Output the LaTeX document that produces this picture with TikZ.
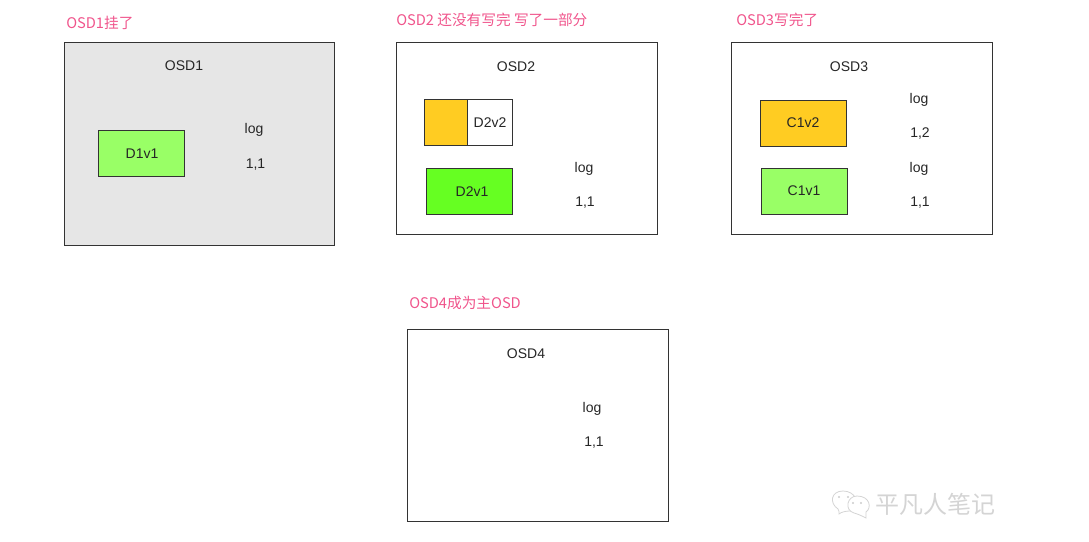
\documentclass[tikz,border=0pt]{standalone}
\usepackage{fontspec}
\setmainfont{Liberation Sans}
\newfontfamily\cjk{Noto Sans CJK SC}
\usetikzlibrary{positioning}
\definecolor{titlepink}{HTML}{F0558C}
\definecolor{downgray}{HTML}{E6E6E6}
\definecolor{lightgreen}{HTML}{99FF66}
\definecolor{puregreen}{HTML}{66FF22}
\definecolor{amber}{HTML}{FFCC22}
\definecolor{edgegray}{HTML}{333333}
\tikzset{
  txt/.style = {inner sep=0pt, font=\fontsize{10.5}{12}\selectfont, text=black!85},
  title/.style = {inner sep=0pt, anchor=west, text=titlepink,
    font=\cjk\fontsize{11}{13}\selectfont},
  osd/.style = {draw=edgegray, line width=0.65pt, inner sep=0pt,
    minimum width=195.75pt, minimum height=144pt},
  obj/.style = {txt, draw=edgegray, line width=0.65pt,
    minimum width=64.5pt, minimum height=34.5pt},
  bubble/.style = {draw=black!17, line width=0.6pt},
  bubbledot/.style = {fill=black!20, draw=none, circle, minimum size=1.8pt, inner sep=0pt}
}

\begin{document}
\begin{tikzpicture}[x=0.75pt, y=-0.75pt]
\useasboundingbox (0,0) rectangle (1089,542);

% OSD1
\node (osd1title) [title] at (66,23) {OSD1挂了};
\node (osd1) [osd, minimum width=202.5pt, minimum height=152.25pt, fill=downgray] at (199,143.5) {};
\node (osd1name) [txt] at (184,66) {OSD1};
\node (d1v1) [obj, fill=lightgreen] at (141,153) {};
\node [txt] at (142,154) {D1v1};
\node (osd1log) [txt] at (254,129.5) {log};
\node (osd1ver) [txt] at (255.5,164.5) {1,1};

% OSD2
\node (osd2title) [title] at (396,20) {OSD2 还没有写完 写了一部分};
\node (osd2) [osd] at (526.5,138) {};
\node (osd2name) [txt] at (516,67) {OSD2};
\node (d2v2part) [obj, fill=amber, minimum width=32.25pt] at (445.5,122.5) {};
\node (d2v2) [obj, fill=white, minimum width=33.25pt, right=0pt of d2v2part] {D2v2};
\node (d2v1) [obj, fill=puregreen] at (469,191) {};
\node [txt] at (472,192) {D2v1};
\node (osd2log) [txt] at (584,168.5) {log};
\node (osd2ver) [txt] at (585,202.5) {1,1};

% OSD3
\node (osd3title) [title] at (736,20) {OSD3写完了};
\node (osd3) [osd] at (861.5,138) {};
\node (osd3name) [txt] at (849,67) {OSD3};
\node (c1v2) [obj, fill=amber] at (803,123) {C1v2};
\node (c1v1) [obj, fill=lightgreen] at (804,191) {C1v1};
\node (osd3log2) [txt] at (919,99.5) {log};
\node (osd3ver2) [txt] at (920,133.5) {1,2};
\node (osd3log1) [txt] at (919,168.5) {log};
\node (osd3ver1) [txt] at (920,202.5) {1,1};

% OSD4
\node (osd4title) [title] at (409,303) {OSD4成为主OSD};
\node (osd4) [osd] at (537.5,425) {};
\node (osd4name) [txt] at (526,354) {OSD4};
\node (osd4log) [txt] at (592,408.5) {log};
\node (osd4ver) [txt] at (594,442.5) {1,1};

% two chat bubbles and the account name, bottom right
\draw [bubble] (850,511) .. controls (846,511) and (841,512) .. (839,514) .. controls (839,512) and (839,510) .. (838,509)
  .. controls (829,503) and (831,491) .. (843,491) .. controls (849,491) and (853,494) .. (855,497);
\draw [bubble, fill=white] (857,496) .. controls (847,496) and (844,510) .. (854,513) .. controls (858,514) and (862,516) .. (866,518)
  .. controls (866,516) and (866,514) .. (866,512) .. controls (872,508) and (870,496) .. (857,496) -- cycle;
\node (dota) [bubbledot] at (839,497) {};
\node (dotb) [bubbledot] at (848,497) {};
\node (dotc) [bubbledot] at (853,503) {};
\node (dotd) [bubbledot] at (861,503) {};
\node (wechat) [inner sep=0pt, anchor=west, text=black!17, font=\cjk\fontsize{18}{20}\selectfont] at (875,504) {平凡人笔记};
\end{tikzpicture}
\end{document}
